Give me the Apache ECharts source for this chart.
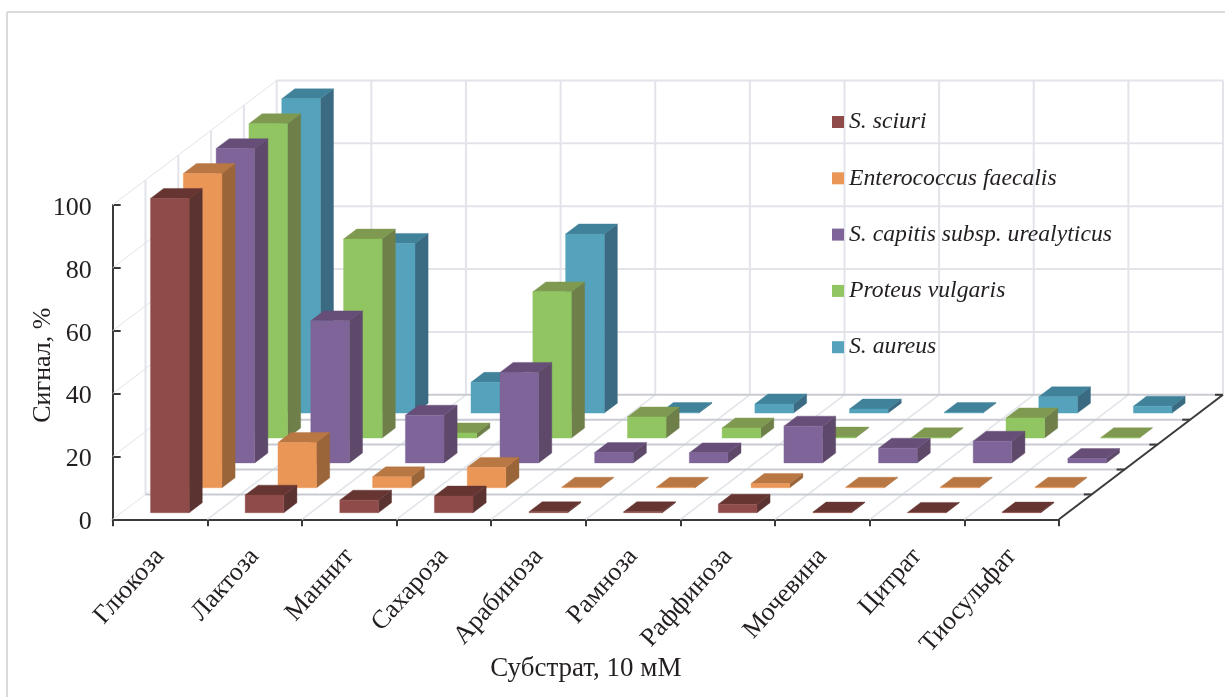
<!DOCTYPE html>
<html>
<head>
<meta charset="utf-8">
<style>
  html, body { margin: 0; padding: 0; background: #fff; }
  #chart { width: 1225px; height: 697px; }
</style>
<script src="https://cdn.jsdelivr.net/npm/echarts@6/dist/echarts.min.js"></script>
</head>
<body>
<div id="chart"></div>
<script>
// Substrates along the front axis
const categories = ['Глюкоза', 'Лактоза', 'Маннит', 'Сахароза', 'Арабиноза', 'Рамноза', 'Раффиноза', 'Мочевина', 'Цитрат', 'Тиосульфат'];
const yTicks = { min: 0, max: 100, interval: 20 };

// Signal, % for each strain and substrate
const sSciuri = [100, 5.6, 4.0, 5.3, 0.3, 0.3, 2.7, 0.2, 0.1, 0.2];
const eFaecalis = [100, 14.4, 3.5, 6.5, 0.2, 0.2, 1.4, 0.2, 0.2, 0.2];
const sCapitis = [100, 45.2, 15.2, 28.8, 3.3, 3.2, 11.7, 4.7, 6.9, 1.4];
const pVulgaris = [100, 63.3, 1.6, 46.5, 6.7, 3.2, 0.3, 0.1, 6.4, 0.1];
const sAureus = [100, 54, 9.8, 57, 0.2, 2.9, 1.3, 0.2, 5.2, 2.2];

const strainNames = ['S. sciuri', 'Enterococcus faecalis', 'S. capitis subsp. urealyticus', 'Proteus vulgaris', 'S. aureus'];
const strainValues = [sSciuri, eFaecalis, sCapitis, pVulgaris, sAureus];

// Face colours per strain: front, top, side
const faceColors = [
  ['#8f4b49', '#663531', '#5b3331'],
  ['#ea9656', '#b97743', '#9b653a'],
  ['#7e6498', '#674e78', '#5e496a'],
  ['#90c561', '#7f9a50', '#6f7f49'],
  ['#54a2bb', '#3f8299', '#3b6a83']
];

// Oblique projection of the depth axis, in pixels per strain row
const DEPTH_DX = 32.8;
const DEPTH_DY = 24.9;
const ROWS = strainNames.length;
const BAR_WIDTH_RATIO = 0.408;
const BAR_DEPTH_RATIO = 0.4;
const ROW_INSET_Y = 6.6;

const GRID = '#e2e4ea';
const FLOOR = '#c9cbd3';
const AXIS = '#3a3a3a';
const INK = '#231f20';
const SERIF = '"Liberation Serif", serif';

function line(x1, y1, x2, y2, stroke, width) {
  return { type: 'line', shape: { x1, y1, x2, y2 }, style: { stroke, lineWidth: width || 2, fill: null } };
}

// Back wall, left wall, floor and the depth edge with its ticks
function renderWalls(params, api) {
  const children = [];
  const n = categories.length;
  const cw = api.size([1, 0])[0];
  const left = api.coord([0, 0])[0] - cw / 2;
  const right = left + cw * n;
  const y0 = api.coord([0, 0])[1];
  const dxAll = DEPTH_DX * ROWS;
  const dyAll = DEPTH_DY * ROWS;
  const levels = [];
  for (let v = yTicks.min; v <= yTicks.max; v += yTicks.interval) levels.push(api.coord([0, v])[1]);
  const yTop = levels[levels.length - 1];

  // horizontal rules on the back wall and their continuation over the left wall
  levels.forEach((y, i) => {
    if (i > 0) children.push(line(left + dxAll, y - dyAll, right + dxAll, y - dyAll, GRID));
    children.push(line(left, y, left + dxAll, y - dyAll, GRID, 1));
  });
  // verticals on the back wall
  for (let k = 0; k <= n; k++) {
    const x = left + dxAll + cw * k;
    children.push(line(x, y0 - dyAll, x, yTop - dyAll, GRID));
  }
  // verticals on the left wall
  for (let i = 1; i < ROWS; i++) {
    const x = left + DEPTH_DX * i;
    children.push(line(x, y0 - DEPTH_DY * i, x, yTop - DEPTH_DY * i, GRID));
  }
  // floor: depth lines and rows
  for (let k = 1; k < n; k++) {
    const x = left + cw * k;
    children.push(line(x, y0, x + dxAll, y0 - dyAll, GRID, 1.5));
  }
  for (let i = 1; i <= ROWS; i++) {
    const x = left + DEPTH_DX * i;
    children.push(line(x, y0 - DEPTH_DY * i, x + cw * n, y0 - DEPTH_DY * i, FLOOR));
  }
  // depth axis along the right edge of the floor
  children.push(line(right, y0, right + dxAll, y0 - dyAll, AXIS));
  for (let i = 1; i <= ROWS; i++) {
    const x = right + DEPTH_DX * i;
    const y = y0 - DEPTH_DY * i;
    children.push(line(x - 8, y, x, y, AXIS));
  }
  return { type: 'group', children };
}

function face(points, color) {
  return { type: 'polygon', shape: { points }, style: { fill: color, stroke: color, lineWidth: 0.4 } };
}

// One oblique box, placed in its strain row
function renderBar(row, params, api) {
  const cat = api.value(0);
  const val = api.value(1);
  const cw = api.size([1, 0])[0];
  const w = cw * BAR_WIDTH_RATIO;
  const ddx = DEPTH_DX * BAR_DEPTH_RATIO;
  const ddy = DEPTH_DY * BAR_DEPTH_RATIO;
  const inX = (DEPTH_DX - ddx) / 2;
  const base = api.coord([cat, 0]);
  const top = api.coord([cat, val]);
  const x0 = base[0] - w / 2 + DEPTH_DX * row + inX;
  const x1 = x0 + w;
  const yb = base[1] - DEPTH_DY * row - ROW_INSET_Y;
  const yt = top[1] - DEPTH_DY * row - ROW_INSET_Y;
  const c = faceColors[row];
  return {
    type: 'group',
    children: [
      face([[x1, yb], [x1 + ddx, yb - ddy], [x1 + ddx, yt - ddy], [x1, yt]], c[2]),
      face([[x0, yt], [x1, yt], [x1 + ddx, yt - ddy], [x0 + ddx, yt - ddy]], c[1]),
      face([[x0, yb], [x1, yb], [x1, yt], [x0, yt]], c[0])
    ]
  };
}

const barSeries = strainNames.map((name, row) => ({
  type: 'custom',
  name,
  coordinateSystem: 'cartesian2d',
  clip: false,
  silent: true,
  z: 10 + ROWS - row,
  itemStyle: { color: faceColors[row][0] },
  encode: { x: 0, y: 1 },
  data: strainValues[row].map((v, i) => [i, v]),
  renderItem: (params, api) => renderBar(row, params, api)
}));

const chart = echarts.init(document.getElementById('chart'), null, { renderer: 'canvas' });
chart.setOption({
  animation: false,
  backgroundColor: '#fff',
  textStyle: { fontFamily: SERIF, color: INK },
  graphic: [
    { type: 'line', shape: { x1: 7, y1: 12, x2: 1225, y2: 12 }, style: { stroke: '#d9d9d9', lineWidth: 2 } },
    { type: 'line', shape: { x1: 7, y1: 12, x2: 7, y2: 697 }, style: { stroke: '#d9d9d9', lineWidth: 2 } }
  ],
  grid: { left: 112.7, top: 205, width: 946.3, height: 314.3, containLabel: false },
  legend: {
    orient: 'vertical',
    left: 832,
    top: 110,
    padding: 0,
    itemWidth: 12,
    itemHeight: 12,
    itemGap: 32.3,
    icon: 'rect',
    selectedMode: false,
    data: strainNames,
    textStyle: { fontFamily: SERIF, fontStyle: 'italic', fontSize: 23.7, color: INK }
  },
  xAxis: {
    type: 'category',
    data: categories,
    boundaryGap: true,
    name: 'Субстрат, 10 мМ',
    nameLocation: 'middle',
    nameMoveOverlap: false,
    nameGap: 136,
    nameTextStyle: { fontFamily: SERIF, fontSize: 27, color: INK },
    axisLine: { lineStyle: { color: AXIS, width: 2 } },
    axisTick: { show: true, alignWithLabel: false, length: 7, lineStyle: { color: AXIS, width: 2 } },
    axisLabel: { rotate: 48, interval: 0, margin: 33, fontFamily: SERIF, fontSize: 26, color: INK },
    splitLine: { show: false }
  },
  yAxis: {
    type: 'value',
    min: yTicks.min,
    max: yTicks.max,
    interval: yTicks.interval,
    name: 'Сигнал, %',
    nameLocation: 'middle',
    nameMoveOverlap: false,
    nameGap: 57,
    nameTextStyle: { fontFamily: SERIF, fontSize: 26, color: INK, padding: [0, 6, 0, 0] },
    axisLine: { show: true, lineStyle: { color: AXIS, width: 2 } },
    axisTick: { show: true, inside: true, length: 8, lineStyle: { color: AXIS, width: 2 } },
    axisLabel: {
      margin: 21,
      formatter: '{v|{value}}',
      rich: { v: { fontFamily: SERIF, fontSize: 26, color: INK, padding: [6, 0, 0, 0] } }
    },
    splitLine: { show: false }
  },
  series: [
    {
      type: 'custom',
      name: 'walls',
      coordinateSystem: 'cartesian2d',
      clip: false,
      silent: true,
      z: 1,
      encode: { x: 0, y: 1 },
      data: [[0, 0]],
      renderItem: renderWalls
    },
    ...barSeries
  ]
});
</script>
</body>
</html>
